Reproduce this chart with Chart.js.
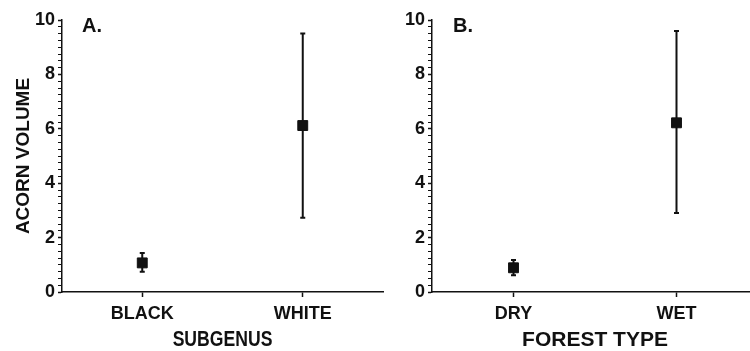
<!DOCTYPE html>
<html>
<head>
<meta charset="utf-8">
<script src="https://cdn.jsdelivr.net/npm/chart.js@4/dist/chart.umd.min.js"></script>
<style>
  html, body { margin: 0; padding: 0; background: #fff; overflow: hidden; }
  body { width: 750px; height: 351px; position: relative; }
  .panel { position: absolute; top: 0; height: 351px; }
  #panelA { left: 0; width: 391px; }
  #panelB { left: 385px; width: 381px; }
</style>
</head>
<body>
<div class="panel" id="panelA"><canvas id="chartA" width="391" height="351"></canvas></div>
<div class="panel" id="panelB"><canvas id="chartB" width="381" height="351"></canvas></div>
<script>
const subgenusLabels = ['BLACK', 'WHITE'];
const subgenusMean = [1.07, 6.12];
const subgenusLow = [0.74, 2.73];
const subgenusHigh = [1.43, 9.5];

const forestLabels = ['DRY', 'WET'];
const forestMean = [0.89, 6.22];
const forestLow = [0.62, 2.9];
const forestHigh = [1.18, 9.6];

const yTickLabels = [0, 2, 4, 6, 8, 10];

const FONT = "'Liberation Sans', Arial, sans-serif";
const INK = '#111';

// vertical error bars drawn under the square markers
const errorBars = {
    id: 'errorBars',
    beforeDatasetsDraw(chart, args, opts) {
        const ctx = chart.ctx;
        const x = chart.scales.x, y = chart.scales.y;
        ctx.save();
        ctx.strokeStyle = INK;
        ctx.lineWidth = 2;
        opts.low.forEach((lo, i) => {
            const px = x.getPixelForValue(i);
            const pLo = y.getPixelForValue(lo);
            const pHi = y.getPixelForValue(opts.high[i]);
            ctx.beginPath();
            ctx.moveTo(px, pLo); ctx.lineTo(px, pHi);
            ctx.moveTo(px - 2.5, pLo); ctx.lineTo(px + 2.5, pLo);
            ctx.moveTo(px - 2.5, pHi); ctx.lineTo(px + 2.5, pHi);
            ctx.stroke();
        });
        ctx.restore();
    }
};

// panel letter and the (condensed) x axis caption
const panelText = {
    id: 'panelText',
    afterDraw(chart, args, opts) {
        const ctx = chart.ctx;
        const area = chart.chartArea;
        ctx.save();
        ctx.fillStyle = INK;
        ctx.font = opts.labelFont;
        ctx.textBaseline = 'top';
        ctx.fillText(opts.label, area.left + opts.dx, area.top - 4);

        ctx.font = opts.captionFont;
        ctx.textBaseline = 'middle';
        ctx.textAlign = 'center';
        ctx.translate((area.left + area.right) / 2 + opts.captionDx, opts.captionY);
        ctx.scale(opts.squeeze, 1);
        ctx.fillText(opts.caption, 0, 0);
        ctx.restore();
    }
};

function panelConfig(labels, means, low, high, axisWidth, yTitle, text) {
    return {
        type: 'line',
        data: {
            labels: labels,
            datasets: [{
                data: means,
                showLine: false,
                pointStyle: 'rect',
                pointRadius: 7,
                pointBackgroundColor: INK,
                pointBorderColor: INK,
                pointBorderWidth: 1
            }]
        },
        options: {
            responsive: false,
            animation: false,
            layout: { padding: { top: 20, right: 0, left: 0, bottom: 0 } },
            plugins: {
                legend: { display: false },
                tooltip: { enabled: false },
                errorBars: { low: low, high: high },
                panelText: text
            },
            scales: {
                x: {
                    type: 'category',
                    offset: true,
                    afterFit: s => { s.height = 59; },
                    grid: { drawOnChartArea: false, offset: false, tickLength: 5, tickColor: INK, tickWidth: 1.5 },
                    border: { color: INK, width: 1.5 },
                    ticks: { color: INK, padding: 6, font: { family: FONT, size: 18, weight: 'bold' } }
                },
                y: {
                    min: 0, max: 10,
                    afterFit: s => { s.width = axisWidth; },
                    grid: {
                        drawOnChartArea: false, tickLength: 4, tickColor: INK,
                        tickWidth: c => (yTickLabels.includes(c.tick.value) ? 1.5 : 1)
                    },
                    border: { color: INK, width: 1.5 },
                    ticks: {
                        stepSize: 0.25, autoSkip: false, padding: 3, color: INK,
                        font: { family: FONT, size: 18, weight: 'bold' },
                        callback: v => (yTickLabels.includes(v) ? String(v) : '')
                    },
                    title: yTitle
                }
            }
        },
        plugins: [errorBars, panelText]
    };
}

new Chart(document.getElementById('chartA'), panelConfig(
    subgenusLabels, subgenusMean, subgenusLow, subgenusHigh, 62,
    { display: true, text: 'ACORN VOLUME', color: INK, padding: { top: 12, bottom: 0 },
      font: { family: FONT, size: 19, weight: 'bold' } },
    { label: 'A.', dx: 20, labelFont: 'bold 20px ' + FONT,
      caption: 'SUBGENUS', captionFont: 'bold 22px ' + FONT, captionY: 340, captionDx: 0, squeeze: 0.8 }
));

new Chart(document.getElementById('chartB'), panelConfig(
    forestLabels, forestMean, forestLow, forestHigh, 47,
    { display: false },
    { label: 'B.', dx: 21, labelFont: 'bold 20px ' + FONT,
      caption: 'FOREST TYPE', captionFont: 'bold 21px ' + FONT, captionY: 340, captionDx: 0, squeeze: 1 }
));
</script>
</body>
</html>
